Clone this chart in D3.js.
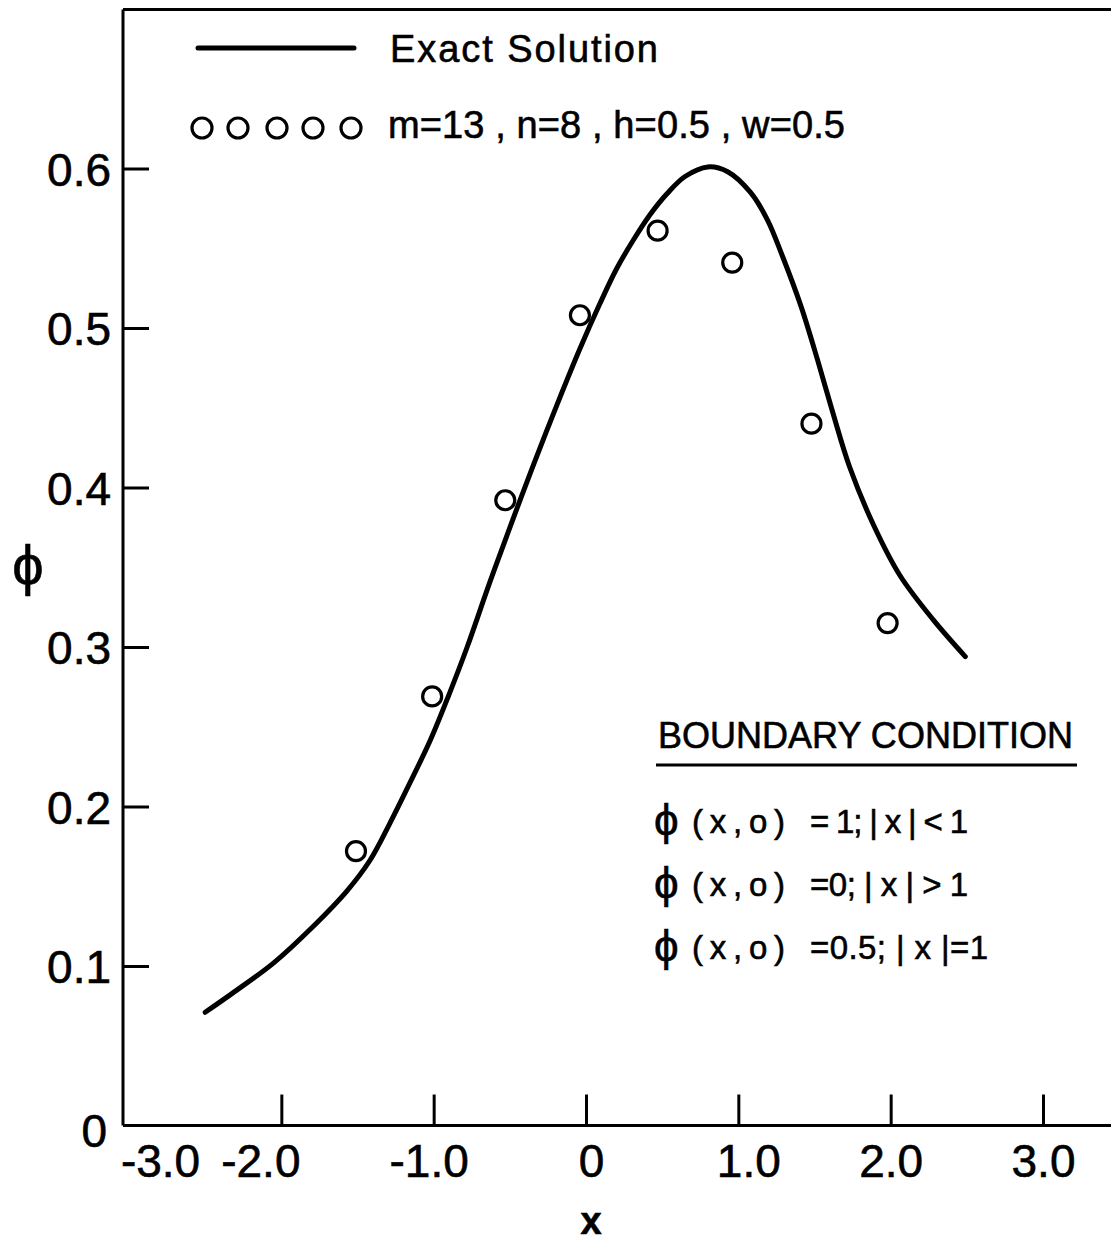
<!DOCTYPE html>
<html><head><meta charset="utf-8">
<script src="https://cdn.jsdelivr.net/npm/d3@7"></script>
<style>
html,body{margin:0;padding:0;background:#fff;}
svg{display:block;}
text{font-family:"Liberation Sans",Arial,sans-serif;fill:#000;stroke:#000;stroke-width:0.6;}
</style></head>
<body>
<svg id="chart" width="1111" height="1243"></svg>
<script>
// ---- data ----
const exactX = [-2.50,-2.32,-2.05,-1.80,-1.57,-1.42,-1.29,-1.16,-1.02,-0.90,-0.78,-0.63,-0.48,-0.35,-0.19,-0.04,0.09,0.20,0.31,0.42,0.53,0.65,0.80,0.93,1.08,1.19,1.29,1.41,1.52,1.62,1.73,1.89,2.06,2.28,2.49];
const exactY = [0.071,0.083,0.102,0.124,0.147,0.166,0.189,0.214,0.242,0.270,0.300,0.341,0.380,0.413,0.452,0.487,0.515,0.537,0.555,0.571,0.584,0.595,0.601,0.598,0.585,0.568,0.545,0.514,0.480,0.447,0.413,0.376,0.345,0.317,0.294];
const numX = [-1.51,-1.01,-0.53,-0.04,0.47,0.96,1.48,1.98];
const numY = [0.172,0.269,0.392,0.508,0.561,0.541,0.440,0.315];
const xTicks = [-3,-2,-1,0,1,2,3];
const xTickLabels = ["-3.0","-2.0","-1.0","0","1.0","2.0","3.0"];
const yTicks = [0,0.1,0.2,0.3,0.4,0.5,0.6];
const yTickLabels = ["0","0.1","0.2","0.3","0.4","0.5","0.6"];
const legendLine = "Exact Solution";
const legendPoints = "m=13 , n=8 , h=0.5 , w=0.5";
const bcTitle = "BOUNDARY CONDITION";
const bcLeft = ["(x,o)","(x,o)","(x,o)"];
const bcRight = ["= 1; | x | < 1","=0; | x | > 1","=0.5; | x |=1"];
const xTitle = "x";
const yTitle = "\u03D5";

// ---- layout ----
const svg = d3.select("#chart");
const x = d3.scaleLinear().domain([-3,3]).range([129,1043]);
const y = d3.scaleLinear().domain([0,0.7]).range([1125.5,9]);
const axisX = 123, axisY = 1125.5, topY = 9.5, rightX = 1111;

// frame
svg.append("line").attr("x1",axisX).attr("x2",rightX).attr("y1",topY).attr("y2",topY)
  .attr("stroke","#000").attr("stroke-width",3);

// y axis
const yAxis = d3.axisLeft(y).tickValues(yTicks)
  .tickFormat((d,i)=>yTickLabels[i]).tickSizeInner(-26).tickSizeOuter(0).tickPadding(12);
const gy = svg.append("g").attr("transform",`translate(${axisX},0)`).call(yAxis);
gy.select(".domain").attr("stroke","#000").attr("stroke-width",3)
  .attr("d",`M0,${topY}V${axisY}`);
gy.selectAll(".tick line").attr("stroke","#000").attr("stroke-width",3)
  .filter(d=>d===0).remove();
gy.selectAll(".tick text").attr("font-size",46).attr("dy","0.36em")
  .attr("font-family","Liberation Sans, Arial, sans-serif")
  .attr("fill","#000").attr("stroke","#000").attr("stroke-width",0.6)
  .filter(d=>d===0).attr("dx",-4).attr("dy","0.45em");

// x axis
const xOff = {"-3":31,"-2":-21,"-1":-5,"0":5,"1":10,"2":0,"3":0};
const xAxis = d3.axisBottom(x).tickValues(xTicks)
  .tickFormat((d,i)=>xTickLabels[i]).tickSizeInner(-31).tickSizeOuter(0).tickPadding(19);
const gx = svg.append("g").attr("transform",`translate(0,${axisY})`).call(xAxis);
gx.select(".domain").attr("stroke","#000").attr("stroke-width",3)
  .attr("d",`M${axisX},0H${rightX}`);
gx.selectAll(".tick line").attr("stroke","#000").attr("stroke-width",3)
  .filter(d=>d===-3).remove();
gx.selectAll(".tick text").attr("font-size",46).attr("dy","0.71em")
  .attr("font-family","Liberation Sans, Arial, sans-serif")
  .attr("fill","#000").attr("stroke","#000").attr("stroke-width",0.6)
  .attr("dx",d=>xOff[String(d)]);

// axis titles
svg.append("text").attr("x",591).attr("y",1234).attr("text-anchor","middle")
  .attr("font-size",38).attr("font-weight","bold").text(xTitle);
svg.append("text").attr("x",28).attr("y",584).attr("text-anchor","middle")
  .attr("font-family","DejaVu Sans, sans-serif")
  .attr("font-size",56).text(yTitle);

// exact solution curve
const pts = exactX.map((v,i)=>[v,exactY[i]]);
svg.append("path").datum(pts)
  .attr("d",d3.line().x(d=>x(d[0])).y(d=>y(d[1])).curve(d3.curveCatmullRom.alpha(0.5)))
  .attr("fill","none").attr("stroke","#000").attr("stroke-width",5)
  .attr("stroke-linecap","round").attr("stroke-linejoin","round");

// numerical points
svg.append("g").selectAll("circle").data(numX.map((v,i)=>[v,numY[i]])).join("circle")
  .attr("cx",d=>x(d[0])).attr("cy",d=>y(d[1])).attr("r",9.5)
  .attr("fill","none").attr("stroke","#000").attr("stroke-width",3.2);

// legend
svg.append("line").attr("x1",198).attr("x2",354).attr("y1",48).attr("y2",48)
  .attr("stroke","#000").attr("stroke-width",5).attr("stroke-linecap","round");
svg.append("text").attr("x",390).attr("y",62).attr("font-size",38)
  .attr("textLength",268).attr("lengthAdjust","spacing").text(legendLine);
svg.append("g").selectAll("circle").data([202,238,277,313,351]).join("circle")
  .attr("cx",d=>d).attr("cy",128).attr("r",10)
  .attr("fill","none").attr("stroke","#000").attr("stroke-width",3.2);
svg.append("text").attr("x",388).attr("y",138).attr("font-size",38)
  .attr("textLength",457).attr("lengthAdjust","spacing").text(legendPoints);

// boundary condition block
svg.append("text").attr("x",658).attr("y",748).attr("font-size",36)
  .attr("textLength",415).attr("lengthAdjust","spacing").text(bcTitle);
svg.append("line").attr("x1",656).attr("x2",1077).attr("y1",765).attr("y2",765)
  .attr("stroke","#000").attr("stroke-width",3);
const rowBase = [833,896,959];
const rightLen = [158,158,178];
rowBase.forEach((b,i)=>{
  svg.append("text").attr("x",654).attr("y",b+2).attr("font-size",44)
    .attr("font-family","DejaVu Sans, sans-serif").text(yTitle);
  svg.append("text").attr("x",692).attr("y",b).attr("font-size",33)
    .attr("textLength",93).attr("lengthAdjust","spacing").text(bcLeft[i]);
  svg.append("text").attr("x",810).attr("y",b).attr("font-size",33)
    .attr("textLength",rightLen[i]).attr("lengthAdjust","spacing").text(bcRight[i]);
});
</script>
</body></html>
